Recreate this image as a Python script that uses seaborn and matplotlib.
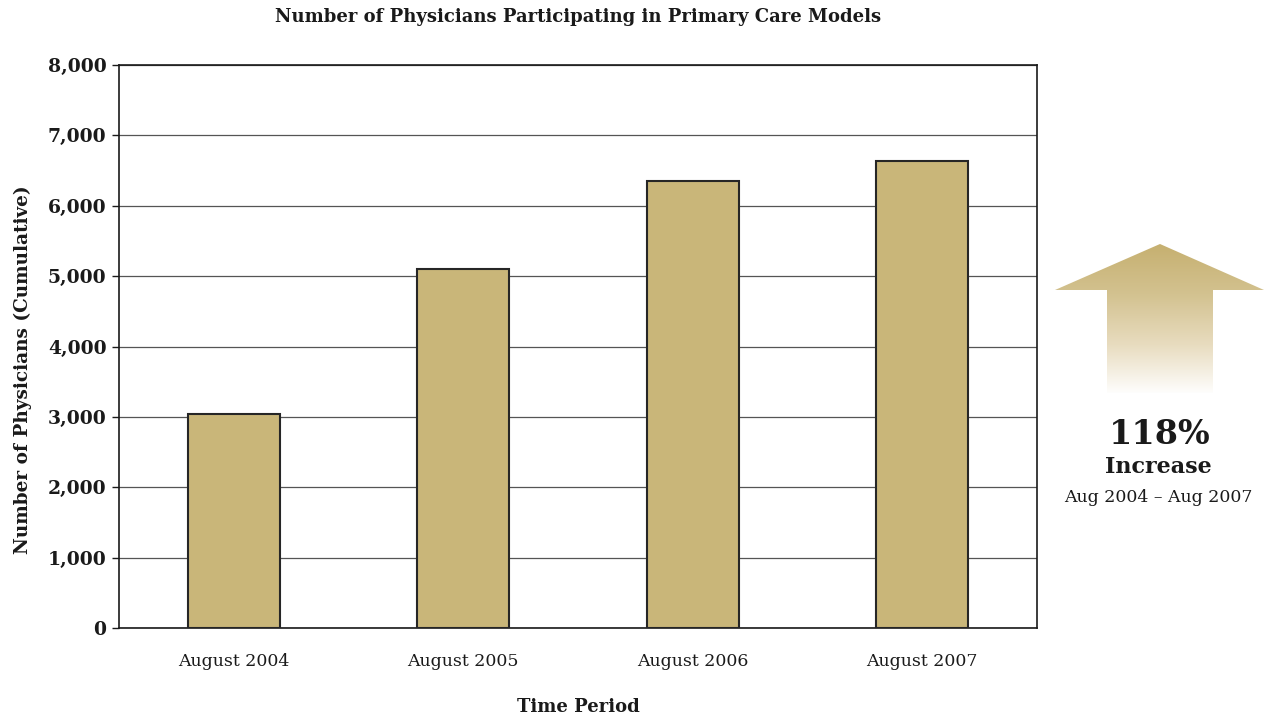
import numpy as np
import pandas as pd
import matplotlib
matplotlib.use("Agg")
import matplotlib.pyplot as plt
from matplotlib.patches import Polygon
from matplotlib.colors import LinearSegmentedColormap
from matplotlib.ticker import FuncFormatter
import seaborn as sns

# Cumulative physicians participating in primary care models
periods = ["August 2004", "August 2005", "August 2006", "August 2007"]
physicians = [3040, 5100, 6350, 6630]
y_ticks = [0, 1000, 2000, 3000, 4000, 5000, 6000, 7000, 8000]

increase_pct = "118%"
increase_word = "Increase"
increase_span = "Aug 2004 \u2013 Aug 2007"

sns.set_theme(style="white")
plt.rcParams["font.family"] = ["DejaVu Serif"]

BAR = "#c9b679"
INK = "#1a1a1a"

fig = plt.figure(figsize=(12.64, 7.19), dpi=100)
ax = fig.add_axes([119 / 1264, 91 / 719, 918 / 1264, 563 / 719])

df = pd.DataFrame({"period": periods, "physicians": physicians})
sns.barplot(data=df, x="period", y="physicians", color=BAR, saturation=1,
            width=0.4, edgecolor="#262626", linewidth=1.5, ax=ax, zorder=3)

ax.set_xlim(-0.5, len(periods) - 0.5)
ax.set_ylim(0, 8000)
ax.set_yticks(y_ticks)
ax.yaxis.set_major_formatter(FuncFormatter(lambda v, p: f"{int(v):,}"))
ax.grid(axis="y", color="#555555", linewidth=0.9, zorder=0)
ax.set_axisbelow(True)
for s in ax.spines.values():
    s.set_visible(True)
    s.set_color(INK)
    s.set_linewidth(1.2)

ax.tick_params(axis="y", which="both", left=True, length=5, width=1, color=INK,
               labelsize=13.5, pad=4)
ax.tick_params(axis="x", bottom=False, labelsize=12.5, pad=12)
for lab in ax.get_yticklabels():
    lab.set_fontweight("bold")
    lab.set_color(INK)
for lab in ax.get_xticklabels():
    lab.set_color(INK)

ax.set_xlabel("Time Period", fontsize=13, fontweight="bold", color=INK, labelpad=20)
ax.set_ylabel("Number of Physicians (Cumulative)", fontsize=13.3, fontweight="bold",
              color=INK)
ax.yaxis.set_label_coords(-0.0948, 0.458)
fig.text(578 / 1264, 1 - 17 / 719,
         "Number of Physicians Participating in Primary Care Models",
         ha="center", va="center", fontsize=13, fontweight="bold", color=INK)

# Up-arrow callout with a fading gradient, drawn in pixel coordinates
ov = fig.add_axes([0, 0, 1, 1], zorder=5)
ov.set_xlim(0, 1264)
ov.set_ylim(719, 0)
ov.axis("off")
arrow = Polygon([(1160, 244), (1264, 290), (1213, 290), (1213, 393),
                 (1107, 393), (1107, 290), (1055, 290)], closed=True,
                facecolor="none", edgecolor="none")
ov.add_patch(arrow)
cmap = LinearSegmentedColormap.from_list(
    "fade", ["#c6b070", "#d3c290", "#e8dcbf", "#ffffff"])
grad = np.linspace(0, 1, 256).reshape(-1, 1)
img = ov.imshow(grad, cmap=cmap, aspect="auto", extent=(1055, 1264, 395, 244),
                interpolation="bilinear")
img.set_clip_path(arrow)
ov.set_xlim(0, 1264)
ov.set_ylim(719, 0)

ov.text(1160, 435, increase_pct, ha="center", va="center", fontsize=24,
        fontweight="bold", color=INK)
ov.text(1158, 467, increase_word, ha="center", va="center", fontsize=16,
        fontweight="bold", color=INK)
ov.text(1158, 497, increase_span, ha="center", va="center", fontsize=12.5,
        color=INK)

fig.savefig("out.png", dpi=100)
